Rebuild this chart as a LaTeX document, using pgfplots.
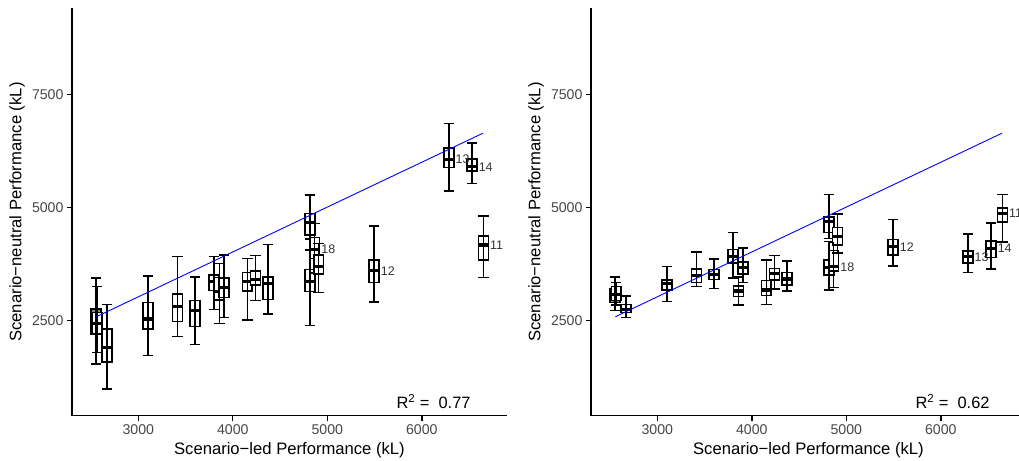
\documentclass[border=0pt]{standalone}
\usepackage{fontspec}
\setmainfont{Liberation Sans}
\usepackage{pgfplots}
\usepackage{pgfplotstable}
\pgfplotsset{compat=1.18}
\usepgfplotslibrary{statistics}

% x, lower whisker, lower quartile, median, upper quartile, upper whisker, fill (grey %)
\pgfplotstableread{
x    lw   q1   med  q3   uw   f
2554 1544 2200 2456 2758 3449 45
2565 1802 2222 2440 2685 3251 0
2666 986  1582 1913 2317 2862 0
3103 1727 2317 2537 2897 3487 0
3413 2147 2478 2809 3089 3913 0
3600 1979 2368 2721 2942 3471 0
3801 2752 3162 3361 3509 3913 0
3857 2443 2957 3140 3458 3766 0
3907 2566 3017 3229 3449 3950 0
4153 2515 3156 3361 3568 3877 0
4238 2942 3288 3414 3597 3935 0
4372 2648 2972 3326 3471 4187 0
4815 4061 4392 4668 4871 5275 0
4815 2390 3140 3361 3635 4300 0
4866 3550 3877 4076 4341 4650 0
4905 3127 3531 3692 3950 4200 0
5496 2910 3339 3604 3840 4590 0
6286 5370 5887 6063 6319 6858 0
6532 5533 5805 5900 6070 6430 0
6651 3458 3840 4171 4376 4811 0
}\panelA

\pgfplotstableread{
x    lw   q1   med  q3   uw   f
2554 2721 2900 3000 3200 3471 45
2565 2847 2950 3080 3251 3348 0
2666 2566 2685 2752 2862 3045 0
3103 2920 3178 3325 3398 3692 0
3413 3251 3348 3493 3641 4023 0
3600 3215 3414 3524 3635 3862 0
3801 3449 3780 3913 4076 4443 0
3857 2847 3030 3156 3266 3460 0
3907 3339 3531 3678 3802 4111 0
4153 2862 3052 3178 3383 3840 0
4238 3200 3398 3546 3657 3935 0
4372 3156 3288 3420 3560 3818 0
4815 4317 4443 4686 4796 5290 0
4815 3178 3509 3670 3840 4250 0
4866 3230 3600 3692 4050 4230 0
4905 4000 4171 4354 4562 4855 0
5496 3708 3950 4134 4297 4738 0
6286 3568 3780 3913 4039 4414 0
6532 3641 3900 4098 4259 4663 0
6651 4244 4685 4871 4994 5290 0
}\panelB

\pgfplotsset{
  panel/.style={
    scale only axis, width=434.9bp, height=407.4bp,
    xmin=2298, xmax=6900, ymin=402, ymax=9399,
    axis x line*=bottom, axis y line*=left,
    axis line style={line width=1.3bp, black},
    xtick={3000,4000,5000,6000}, ytick={2500,5000,7500},
    minor tick num=0,
    tick style={line width=1.3bp, black},
    tick align=outside, major tick length=5bp,
    ticklabel style={font=\fontsize{14.2}{16}\selectfont, text=black!72},
    /pgf/number format/assume math mode=true,
    /pgf/number format/1000 sep={},
    scaled ticks=false,
    xlabel={Scenario−led Performance (kL)},
    ylabel={Scenario−neutral Performance (kL)},
    label style={font=\fontsize{16.7}{19}\selectfont, text=black},
    xlabel style={at={(axis description cs:0.5,-0.0842)}, anchor=center},
    ylabel style={at={(axis description cs:-0.1265,0.5)}, anchor=center},
    clip=false,
  },
  mybox/.style={draw=black, line width=1.55bp, solid,
    boxplot/draw direction=y,
    boxplot/box extend=105, boxplot/whisker extend=110,
    boxplot/every median/.style={line width=3.2bp}},
  whisk/.style={draw=none, mark=none,
    error bars/.cd, y dir=both, y explicit, error mark=none,
    error bar style={draw=black, line width=1.55bp, solid}},
}
\tikzset{
  lbl/.style={anchor=west, inner sep=0pt, font=\fontsize{12.5}{14}\selectfont, text=black!80},
  rsq/.style={anchor=base, inner sep=0pt, font=\fontsize{16.5}{19}\selectfont, text=black},
}

\newcommand\drawboxes[1]{%
  \pgfplotsinvokeforeach{0,...,19}{%
    \pgfplotstablegetelem{##1}{x}\of#1\let\bX\pgfplotsretval
    \pgfplotstablegetelem{##1}{lw}\of#1\let\bA\pgfplotsretval
    \pgfplotstablegetelem{##1}{q1}\of#1\let\bB\pgfplotsretval
    \pgfplotstablegetelem{##1}{med}\of#1\let\bC\pgfplotsretval
    \pgfplotstablegetelem{##1}{q3}\of#1\let\bD\pgfplotsretval
    \pgfplotstablegetelem{##1}{uw}\of#1\let\bE\pgfplotsretval
    \pgfplotstablegetelem{##1}{f}\of#1\let\bF\pgfplotsretval
    \edef\doit{\noexpand\addplot[mybox, fill=black!\bF,
      boxplot prepared={draw position=\bX, lower whisker=\bA,
        lower quartile=\bB, median=\bC, upper quartile=\bD,
        upper whisker=\bE}] coordinates {};}%
    \doit
  }%
}

\begin{document}
\begin{tikzpicture}
\useasboundingbox (0,0) rectangle (1019bp,461bp);
\clip (0,0) rectangle (1019bp,461bp);

\begin{axis}[panel, at={(72bp,45.3bp)}, anchor=south west]
  \drawboxes{\panelA}
  \addplot[whisk] table[x=x, y=med,
    y error plus expr=\thisrow{uw}-\thisrow{med},
    y error minus expr=\thisrow{med}-\thisrow{lw}] {\panelA};
  \addplot[blue, line width=0.9bp] coordinates {(2556,2588) (6648,6642)};
  \node[lbl] at (axis cs:6355,6063) {13};
  \node[lbl] at (axis cs:6600,5900) {14};
  \node[lbl] at (axis cs:6720,4171) {11};
  \node[lbl] at (axis cs:5565,3604) {12};
  \node[lbl] at (axis cs:4935,4076) {18};
  \node[rsq] at (axis cs:6124,551) {R\textsuperscript{2} = \ 0.77};
\end{axis}

\begin{axis}[panel, at={(591bp,45.3bp)}, anchor=south west]
  \drawboxes{\panelB}
  \addplot[whisk] table[x=x, y=med,
    y error plus expr=\thisrow{uw}-\thisrow{med},
    y error minus expr=\thisrow{med}-\thisrow{lw}] {\panelB};
  \addplot[blue, line width=0.9bp] coordinates {(2556,2588) (6648,6642)};
  \node[lbl] at (axis cs:6355,3913) {13};
  \node[lbl] at (axis cs:6600,4098) {14};
  \node[lbl] at (axis cs:6720,4871) {11};
  \node[lbl] at (axis cs:5565,4134) {12};
  \node[lbl] at (axis cs:4935,3692) {18};
  \node[rsq] at (axis cs:6124,551) {R\textsuperscript{2} = \ 0.62};
\end{axis}
\end{tikzpicture}
\end{document}
